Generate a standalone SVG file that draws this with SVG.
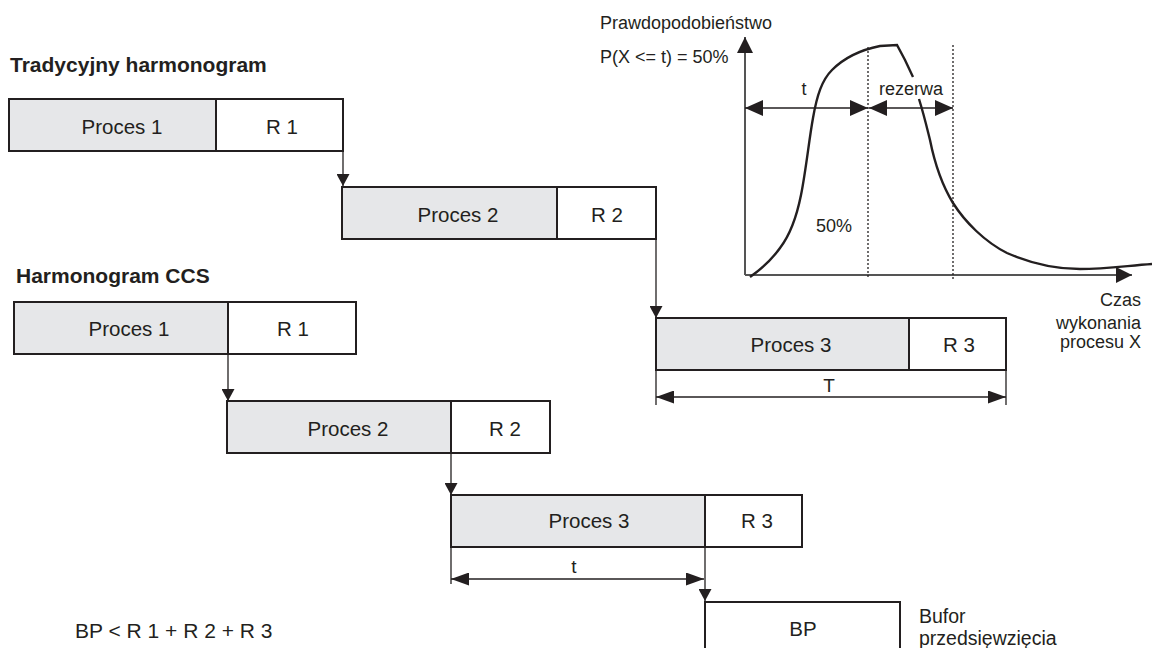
<svg xmlns="http://www.w3.org/2000/svg" width="1152" height="648" viewBox="0 0 1152 648">
<style>
text{font-family:"Liberation Sans",Arial,sans-serif;fill:#231f20}
.lbl{font-size:20.5px;text-anchor:middle}
.ttl{font-size:21px;font-weight:bold}
.g{font-size:18px}
.proc{fill:#e6e7e9;stroke:#231f20;stroke-width:2}
.res{fill:#fff;stroke:#231f20;stroke-width:2}
.con{stroke:#231f20;stroke-width:1.3;fill:none}
.axis{stroke:#555;stroke-width:2;fill:none}
.dot{stroke:#231f20;stroke-width:1.3;stroke-dasharray:2 2;fill:none}
.curve{stroke:#231f20;stroke-width:2.4;fill:none}
</style>
<defs>
<marker id="ah" markerUnits="userSpaceOnUse" markerWidth="12" markerHeight="13" refX="12" refY="6.5" orient="auto">
<path d="M0,0 L12,6.5 L0,13 z" fill="#231f20"/>
</marker>
<marker id="dh" markerUnits="userSpaceOnUse" markerWidth="18" markerHeight="13" refX="18" refY="6.5" orient="auto-start-reverse">
<path d="M0,0 L18,6.5 L0,13 z" fill="#231f20"/>
</marker>
<marker id="gh" markerUnits="userSpaceOnUse" markerWidth="18" markerHeight="16" refX="18" refY="8" orient="auto-start-reverse">
<path d="M0,0 L18,8 L0,16 z" fill="#231f20"/>
</marker>
<marker id="axh" markerUnits="userSpaceOnUse" markerWidth="16" markerHeight="16" refX="16" refY="8" orient="auto">
<path d="M0,0 L16,8 L0,16 z" fill="#231f20"/>
</marker>
</defs>
<rect width="1152" height="648" fill="#fff"/>

<text class="ttl" x="10" y="72">Tradycyjny harmonogram</text>
<text class="ttl" x="16" y="283">Harmonogram CCS</text>

<g id="trad-p1">
<rect class="proc" x="9" y="99" width="207" height="52"/>
<rect class="res" x="216" y="99" width="127" height="52"/>
<text class="lbl" x="122" y="134">Proces 1</text>
<text class="lbl" x="282" y="134">R 1</text>
</g>
<g id="trad-p2">
<rect class="proc" x="342" y="187" width="215" height="52"/>
<rect class="res" x="557" y="187" width="99" height="52"/>
<text class="lbl" x="458" y="222">Proces 2</text>
<text class="lbl" x="607" y="222">R 2</text>
</g>
<g id="trad-p3">
<rect class="proc" x="656" y="318" width="253" height="52"/>
<rect class="res" x="909" y="318" width="97" height="52"/>
<text class="lbl" x="791" y="352">Proces 3</text>
<text class="lbl" x="959" y="352">R 3</text>
</g>

<g id="ccs-p1">
<rect class="proc" x="14" y="302" width="214" height="52"/>
<rect class="res" x="228" y="302" width="128" height="52"/>
<text class="lbl" x="129" y="336">Proces 1</text>
<text class="lbl" x="293" y="336">R 1</text>
</g>
<g id="ccs-p2">
<rect class="proc" x="227" y="401" width="224" height="52"/>
<rect class="res" x="451" y="401" width="99" height="52"/>
<text class="lbl" x="348" y="436">Proces 2</text>
<text class="lbl" x="505" y="436">R 2</text>
</g>
<g id="ccs-p3">
<rect class="proc" x="451" y="495" width="254" height="52"/>
<rect class="res" x="705" y="495" width="97" height="52"/>
<text class="lbl" x="589" y="528">Proces 3</text>
<text class="lbl" x="757" y="528">R 3</text>
</g>
<g id="bp">
<rect class="res" x="705" y="602" width="195" height="70"/>
<text class="lbl" x="803" y="636">BP</text>
<text x="919" y="623" style="font-size:19.5px">Bufor</text>
<text x="919" y="645" style="font-size:19.5px">przedsięwzięcia</text>
</g>

<text x="75" y="638" style="font-size:21px">BP &lt; R 1 + R 2 + R 3</text>

<g id="connectors">
<line class="con" x1="343" y1="152" x2="343" y2="186" marker-end="url(#ah)"/>
<line class="con" x1="656" y1="240" x2="656" y2="318" marker-end="url(#ah)"/>
<line class="con" x1="228" y1="355" x2="228" y2="401" marker-end="url(#ah)"/>
<line class="con" x1="451" y1="454" x2="451" y2="495" marker-end="url(#ah)"/>
<line class="con" x1="705" y1="548" x2="705" y2="601" marker-end="url(#ah)"/>
<line class="con" x1="656" y1="370" x2="656" y2="405"/>
<line class="con" x1="1006" y1="370" x2="1006" y2="405"/>
<line class="con" x1="656" y1="397" x2="1006" y2="397" marker-start="url(#dh)" marker-end="url(#dh)"/>
<line class="con" x1="451" y1="547" x2="451" y2="584"/>
<line class="con" x1="451" y1="579" x2="704" y2="579" marker-start="url(#dh)" marker-end="url(#dh)"/>
</g>
<text class="g" x="829" y="392" text-anchor="middle" style="font-size:19px">T</text>
<text class="g" x="574" y="573" text-anchor="middle" style="font-size:19px">t</text>

<g id="graph">
<line class="axis" x1="745" y1="275" x2="745" y2="37" marker-end="url(#axh)"/>
<line class="axis" x1="745" y1="275" x2="1132" y2="275" marker-end="url(#axh)"/>
<line class="dot" x1="868" y1="47" x2="868" y2="279"/>
<line class="dot" x1="953" y1="45" x2="953" y2="279"/>
<path class="curve" d="M750,277 C760,270 770,262 780,248 C790,235 797,215 801,195 C806,170 809,140 813,118 C817,95 822,80 832,70 C845,57 860,50 880,46 L897,45 L905,60 L913,77"/>
<path class="curve" d="M919,99 C924,115 927,128 930,140 C935,165 942,185 953,203 C965,222 985,242 1007,253 C1030,263 1055,269 1080,269 C1105,269 1125,266 1152,264"/>
<line class="con" x1="745" y1="108" x2="868" y2="108" marker-start="url(#gh)" marker-end="url(#gh)"/>
<line class="con" x1="869" y1="108" x2="953" y2="108" marker-start="url(#gh)" marker-end="url(#gh)"/>
<text class="g" x="804" y="95" text-anchor="middle">t</text>
<text class="g" x="911" y="95" text-anchor="middle">rezerwa</text>
<text class="g" x="834" y="232" text-anchor="middle">50%</text>
<text class="g" x="600" y="29">Prawdopodobieństwo</text>
<text class="g" x="600" y="63">P(X &lt;= t) = 50%</text>
<text class="g" x="1141" y="306" text-anchor="end">Czas</text>
<text class="g" x="1141" y="329" text-anchor="end">wykonania</text>
<text class="g" x="1141" y="348" text-anchor="end">procesu X</text>
</g>
</svg>
